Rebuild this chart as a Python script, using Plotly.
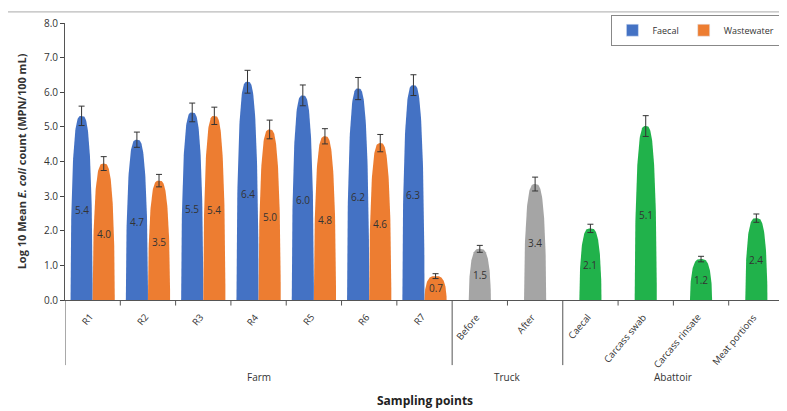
import numpy as np
import plotly.graph_objects as go

farm_labels = ["R1","R2","R3","R4","R5","R6","R7"]
faecal = [5.4,4.7,5.5,6.4,6.0,6.2,6.3]
faecal_err = [0.28,0.22,0.27,0.33,0.3,0.32,0.3]
waste = [4.0,3.5,5.4,5.0,4.8,4.6,0.7]
waste_err = [0.2,0.18,0.25,0.27,0.22,0.25,0.07]
truck_labels = ["Before","After"]
truck = [1.5,3.4]
truck_err = [0.1,0.2]
abat_labels = ["Caecal","Carcass swab","Carcass rinsate","Meat portions"]
abat = [2.1,5.1,1.2,2.4]
abat_err = [0.12,0.3,0.08,0.12]
groups = [("Farm",0,7),("Truck",7,9),("Abattoir",9,13)]

BLUE, ORANGE, GRAY, GREEN = "#4472C4", "#ED7D31", "#A5A5A5", "#21B24B"
fig = go.Figure()
hw = 0.2
t = np.linspace(0, np.pi/2, 60)

def bullet(xc, v, err, color):
    h = v*0.985
    c = np.cos(t)**0.6
    xs = np.concatenate([xc - hw*c, (xc + hw*c)[::-1]])
    ys = np.concatenate([h*np.sin(t), (h*np.sin(t))[::-1]])
    fig.add_trace(go.Scatter(x=xs, y=ys, fill="toself", mode="lines", line=dict(width=0),
                             fillcolor=color, showlegend=False, hoverinfo="skip"))
    fig.add_trace(go.Scatter(x=[xc], y=[h], mode="markers", marker=dict(size=0.1, color=color),
                             error_y=dict(type="data", array=[err], color="#333", thickness=1, width=3),
                             showlegend=False, hoverinfo="skip"))
    fig.add_annotation(x=xc, y=v*0.48, text=f"{v:.1f}", showarrow=False,
                       font=dict(size=10, color="#333"))

for i in range(7):
    bullet(i+0.3, faecal[i], faecal_err[i], BLUE)
    bullet(i+0.7, waste[i], waste_err[i], ORANGE)
for j in range(2):
    bullet(7+j+0.5, truck[j], truck_err[j], GRAY)
for j in range(4):
    bullet(9+j+0.5, abat[j], abat_err[j], GREEN)

fig.add_trace(go.Bar(x=[None], y=[None], marker_color=BLUE, name="Faecal"))
fig.add_trace(go.Bar(x=[None], y=[None], marker_color=ORANGE, name="Wastewater"))

cats = farm_labels + truck_labels + abat_labels
for k, c in enumerate(cats):
    fig.add_annotation(x=k+0.5, y=-0.03, yref="paper", text=c, textangle=-50, showarrow=False,
                       xanchor="right", yanchor="top", xshift=6, font=dict(size=9.5, color="#333"))
for k in range(14):
    long = k in (0, 7, 9, 13)
    fig.add_shape(type="line", x0=k, x1=k, xref="x", yref="paper", y0=0,
                  y1=-0.235 if long else -0.02, line=dict(color="#555", width=1))
for name, a, b in groups:
    fig.add_annotation(x=(a+b)/2, y=-0.31, yref="paper", text=name, showarrow=False,
                       font=dict(size=10, color="#333"))
fig.add_annotation(x=0.5, xref="paper", y=-0.40, yref="paper", text="<b>Sampling points</b>",
                   showarrow=False, font=dict(size=12, color="#222"))
fig.add_shape(type="rect", xref="paper", yref="paper", x0=-0.083, x1=1.014, y0=-0.42, y1=1.04,
              line=dict(color="#aaa", width=1))

fig.update_layout(
    width=787, height=411, margin=dict(l=57, r=11, t=15, b=119, autoexpand=False),
    plot_bgcolor="white", paper_bgcolor="white",
    font=dict(family="Open Sans, sans-serif", color="#333"),
    xaxis=dict(range=[0, 13], showticklabels=False, showgrid=False, zeroline=False,
               showline=True, linecolor="#555", ticks=""),
    yaxis=dict(range=[0, 8], dtick=1, tickformat=".1f", showgrid=False, zeroline=False,
               showline=True, linecolor="#555", ticks="outside", ticklen=4, tickfont=dict(size=10),
               title=dict(text="<b>Log 10 Mean <i>E. coli</i> count (MPN/100 mL)</b>", font=dict(size=11))),
    legend=dict(x=0.995, y=1.03, xanchor="right", yanchor="top", orientation="h",
                bordercolor="#888", borderwidth=1, font=dict(size=9), itemwidth=30),
)
fig.write_html("out.html")
